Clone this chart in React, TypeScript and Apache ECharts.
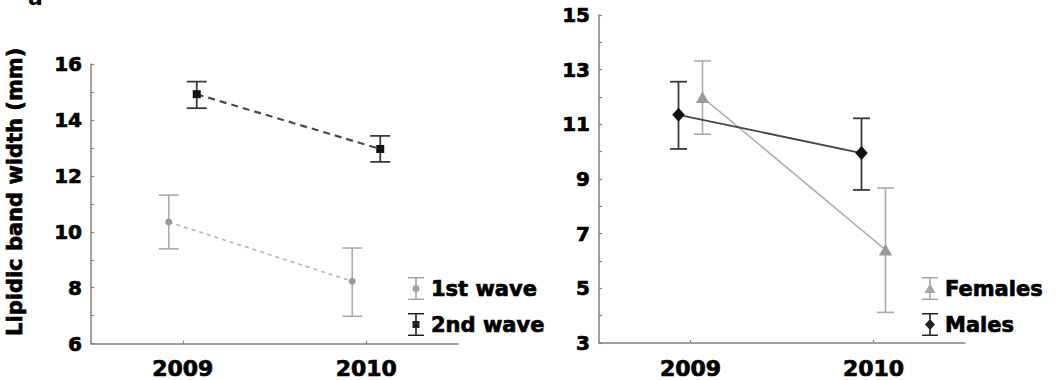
import React, { useEffect, useRef } from "react";
import * as echarts from "echarts";

// ---- data ----
const years = ["2009", "2010"];
// left panel (waves)
const wave1Mean = [10.35, 8.23];
const wave1Low = [9.39, 6.98];
const wave1High = [11.31, 9.42];
const wave2Mean = [14.92, 12.96];
const wave2Low = [14.42, 12.5];
const wave2High = [15.37, 13.43];
// right panel (sexes)
const femMean = [11.99, 6.41];
const femLow = [10.64, 4.12];
const femHigh = [13.32, 8.67];
const maleMean = [11.35, 9.95];
const maleLow = [10.1, 8.6];
const maleHigh = [12.56, 11.22];
// axis labels
const leftLabels = [6, 8, 10, 12, 14, 16];
const rightLabels = [3, 5, 7, 9, 11, 13, 15];

const FONT = "DejaVu Sans";
const heavy = { textBorderColor: "#000", textBorderWidth: 0.7 };

type Style = {
  offset: number;
  bar: string;
  marker: string;
  line: string;
  lineWidth: number;
  dash: number[] | null;
  shape: "circle" | "square" | "triangle" | "diamond";
  size: number;
  cap: number;
  barWidth: number;
};

function build(mean: number[], low: number[], high: number[]) {
  return years.map((y, i) => [i, mean[i], low[i], high[i]]);
}

function markerEl(shape: string, x: number, y: number, s: number, fill: string) {
  const h = s / 2;
  if (shape === "circle") return { type: "circle", shape: { cx: x, cy: y, r: h }, style: { fill } };
  if (shape === "square") return { type: "rect", shape: { x: x - h, y: y - h, width: s, height: s }, style: { fill } };
  if (shape === "triangle")
    return {
      type: "polygon",
      shape: { points: [[x, y - h * 0.95], [x + h * 1.1, y + h * 0.95], [x - h * 1.1, y + h * 0.95]] },
      style: { fill },
    };
  return {
    type: "polygon",
    shape: { points: [[x, y - h], [x + h * 0.9, y], [x, y + h], [x - h * 0.9, y]] },
    style: { fill },
  };
}

function makeRender(st: Style) {
  return (params: any, api: any) => {
    const i = params.dataIndex;
    const cx = api.value(0);
    const p = api.coord([cx, api.value(1)]);
    const lo = api.coord([cx, api.value(2)]);
    const hi = api.coord([cx, api.value(3)]);
    const x = p[0] + st.offset;
    const children: any[] = [];
    if (i < years.length - 1) {
      const n = api.coord([api.value(0, i + 1), api.value(1, i + 1)]);
      children.push({
        type: "line",
        shape: { x1: x, y1: p[1], x2: n[0] + st.offset, y2: n[1] },
        style: { stroke: st.line, lineWidth: st.lineWidth, lineDash: st.dash || undefined },
      });
    }
    const bs = { stroke: st.bar, lineWidth: st.barWidth };
    children.push({ type: "line", shape: { x1: x, y1: lo[1], x2: x, y2: hi[1] }, style: bs });
    children.push({ type: "line", shape: { x1: x - st.cap / 2, y1: lo[1], x2: x + st.cap / 2, y2: lo[1] }, style: bs });
    children.push({ type: "line", shape: { x1: x - st.cap / 2, y1: hi[1], x2: x + st.cap / 2, y2: hi[1] }, style: bs });
    children.push(markerEl(st.shape, x, p[1], st.size, st.marker));
    return { type: "group", children };
  };
}

const beam = "M2,0H18V1.6H2Z M9.2,0H10.8V23H9.2Z M2,21.4H18V23H2Z ";
const icons: Record<string, string> = {
  circle: "path://" + beam + "M13.5,11.5A3.5,3.5 0 1,1 6.5,11.5A3.5,3.5 0 1,1 13.5,11.5Z",
  square: "path://" + beam + "M6.5,8H13.5V15H6.5Z",
  triangle: "path://" + beam + "M10,6.5L15.5,16H4.5Z",
  diamond: "path://" + beam + "M10,6L15,11.5L10,17L5,11.5Z",
};

function axisCommon() {
  return {
    axisLine: { show: true, lineStyle: { color: "#808080", width: 1.5 } },
    axisTick: { show: true, inside: true, length: 3, lineStyle: { color: "#808080", width: 1.2 } },
    splitLine: { show: false },
  };
}

export default function App() {
  const ref = useRef<HTMLDivElement>(null);
  useEffect(() => {
    if (!ref.current) return;
    const chart = echarts.init(ref.current, undefined, { renderer: "svg" });
    const s1: Style = { offset: -14, bar: "#aaaaaa", marker: "#999999", line: "#b3b3b3", lineWidth: 1.6, dash: [4, 4], shape: "circle", size: 7, cap: 20, barWidth: 1.6 };
    const s2: Style = { offset: 14, bar: "#3a3a3a", marker: "#111111", line: "#4a4a4a", lineWidth: 2.2, dash: [7, 5], shape: "square", size: 8, cap: 20, barWidth: 1.8 };
    const sf: Style = { offset: 12, bar: "#aaaaaa", marker: "#999999", line: "#b0b0b0", lineWidth: 1.6, dash: null, shape: "triangle", size: 12, cap: 17, barWidth: 1.6 };
    const sm: Style = { offset: -12, bar: "#3a3a3a", marker: "#111111", line: "#444444", lineWidth: 1.8, dash: null, shape: "diamond", size: 14, cap: 17, barWidth: 1.8 };

    const legendText = { fontFamily: FONT, fontWeight: "bold", fontSize: 21, color: "#000", ...heavy };

    chart.setOption({
      animation: false,
      backgroundColor: "#ffffff",
      graphic: [
        { type: "text", x: 28, y: -14, style: { text: "a", fontFamily: FONT, fontWeight: "bold", fontSize: 22, fill: "#000" } },
      ],
      grid: [
        { left: 91, top: 64, width: 367, height: 280 },
        { left: 599, top: 15, width: 366, height: 328 },
      ],
      xAxis: [0, 1].map((g) => ({
        gridIndex: g,
        type: "category",
        data: years,
        boundaryGap: true,
        ...axisCommon(),
        axisTick: { show: true, inside: true, alignWithLabel: true, length: 3, lineStyle: { color: "#808080", width: 1.2 } },
        axisLabel: { fontFamily: FONT, fontWeight: "bold", fontSize: 22, color: "#000", margin: 14, ...heavy },
      })),
      yAxis: [
        {
          gridIndex: 0,
          type: "value",
          min: 6,
          max: 16,
          interval: 1,
          ...axisCommon(),
          axisLabel: {
            fontFamily: FONT, fontWeight: "bold", fontSize: 20, color: "#000", margin: 9, ...heavy,
            formatter: (v: number) => (leftLabels.includes(v) ? String(v) : ""),
          },
          name: "Lipidic band width (mm)",
          nameLocation: "middle",
          nameGap: 66,
          nameTextStyle: { fontFamily: FONT, fontWeight: "bold", fontSize: 21, color: "#000", padding: [0, 0, 0, 24], ...heavy },
        },
        {
          gridIndex: 1,
          type: "value",
          min: 3,
          max: 15,
          interval: 1,
          ...axisCommon(),
          axisLabel: {
            fontFamily: FONT, fontWeight: "bold", fontSize: 20, color: "#000", margin: 9, ...heavy,
            formatter: (v: number) => (rightLabels.includes(v) ? String(v) : ""),
          },
        },
      ],
      legend: [
        {
          left: 403, top: 272, orient: "vertical", itemWidth: 20, itemHeight: 23, itemGap: 13,
          selectedMode: false, textStyle: legendText,
          data: [
            { name: "1st wave", icon: icons.circle, itemStyle: { color: "#a5a5a5" } },
            { name: "2nd wave", icon: icons.square, itemStyle: { color: "#222222" } },
          ],
        },
        {
          left: 917, top: 272, orient: "vertical", itemWidth: 20, itemHeight: 23, itemGap: 13,
          selectedMode: false, textStyle: legendText,
          data: [
            { name: "Females", icon: icons.triangle, itemStyle: { color: "#a5a5a5" } },
            { name: "Males", icon: icons.diamond, itemStyle: { color: "#222222" } },
          ],
        },
      ],
      series: [
        { type: "custom", name: "1st wave", xAxisIndex: 0, yAxisIndex: 0, renderItem: makeRender(s1), data: build(wave1Mean, wave1Low, wave1High), itemStyle: { color: "#a5a5a5" }, encode: { x: 0, y: 1 } },
        { type: "custom", name: "2nd wave", xAxisIndex: 0, yAxisIndex: 0, renderItem: makeRender(s2), data: build(wave2Mean, wave2Low, wave2High), itemStyle: { color: "#222222" }, encode: { x: 0, y: 1 } },
        { type: "custom", name: "Females", xAxisIndex: 1, yAxisIndex: 1, renderItem: makeRender(sf), data: build(femMean, femLow, femHigh), itemStyle: { color: "#a5a5a5" }, encode: { x: 0, y: 1 } },
        { type: "custom", name: "Males", xAxisIndex: 1, yAxisIndex: 1, renderItem: makeRender(sm), data: build(maleMean, maleLow, maleHigh), itemStyle: { color: "#222222" }, encode: { x: 0, y: 1 } },
      ],
    });
    return () => chart.dispose();
  }, []);
  return <div ref={ref} style={{ position: "absolute", left: 0, top: 0, width: 1059, height: 380 }} />;
}
